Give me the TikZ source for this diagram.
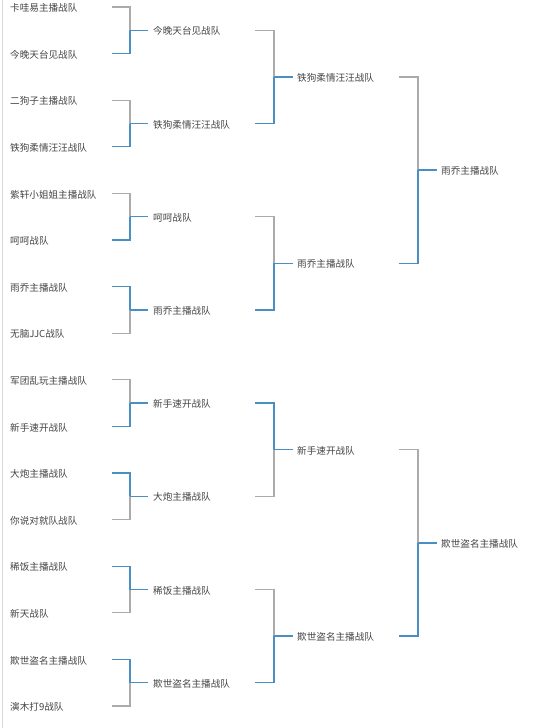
\documentclass[tikz,border=0pt]{standalone}
\usepackage{fontspec}
\newfontfamily\cjk{Noto Sans CJK SC}
\definecolor{lgray}{HTML}{ABABAB}
\definecolor{wblue}{HTML}{4A8FC4}
\definecolor{tgray}{HTML}{444444}
\begin{document}
\begin{tikzpicture}[x=1pt,y=-1pt,
  los/.style={draw=lgray,line width=1.3pt,line join=miter},
  win/.style={draw=wblue,line width=1.3pt,line join=miter},
  lab/.style={anchor=west,inner sep=0pt,text=tgray,font=\cjk\fontsize{9.6}{9.6}\selectfont}]
\useasboundingbox (0,0) rectangle (539,728);
\fill[white] (0,0) rectangle (539,728);
\draw[lgray!45,line width=1pt] (2,0) -- (2,728);
% round 1 labels
\node[lab] (p0) at (10,8) {卡哇易主播战队};
\node[lab] (p1) at (10,54.6) {今晚天台见战队};
\node[lab] (p2) at (10,101.2) {二狗子主播战队};
\node[lab] (p3) at (10,147.8) {铁狗柔情汪汪战队};
\node[lab] (p4) at (10,194.4) {紫轩小姐姐主播战队};
\node[lab] (p5) at (10,241) {呵呵战队};
\node[lab] (p6) at (10,287.6) {雨乔主播战队};
\node[lab] (p7) at (10,334.2) {无脑JJC战队};
\node[lab] (p8) at (10,380.8) {军团乱玩主播战队};
\node[lab] (p9) at (10,427.4) {新手速开战队};
\node[lab] (p10) at (10,474) {大炮主播战队};
\node[lab] (p11) at (10,520.6) {你说对就队战队};
\node[lab] (p12) at (10,567.2) {稀饭主播战队};
\node[lab] (p13) at (10,613.8) {新天战队};
\node[lab] (p14) at (10,660.4) {欺世盗名主播战队};
\node[lab] (p15) at (10,707) {演木打9战队};
% brackets
\foreach \n/\xs/\xv/\xo/\yt/\yb/\wn/\ls in {
  a/112/130/148/7/53.6/b/t,
  b/112/130/148/100.2/146.8/b/t,
  c/112/130/148/193.4/240/b/t,
  d/112/130/148/286.6/333.2/t/b,
  e/112/130/148/379.8/426.4/b/t,
  f/112/130/148/473/519.6/t/b,
  g/112/130/148/566.2/612.8/t/b,
  h/112/130/148/659.4/706/t/b,
  i/255/274/293/30.3/123.5/b/t,
  j/255/274/293/216.7/309.9/b/t,
  k/255/274/293/403.1/496.3/t/b,
  l/255/274/293/589.5/682.7/b/t,
  m/399/418/437/76.9/263.3/b/t,
  n/399/418/437/449.7/636.1/b/t}
{
  \coordinate (\n-t) at (\xs,\yt);
  \coordinate (\n-b) at (\xs,\yb);
  \coordinate (\n-m) at (\xv,{(\yt+\yb)/2});
  \coordinate (\n-o) at (\xo,{(\yt+\yb)/2});
  \draw[los] (\n-\ls) -| (\n-m);
  \draw[win] (\n-\wn) -| (\n-m);
  \draw[win] (\n-m) -- (\n-o);
}
% round 2 labels
\node[lab] (q0) at (153,31.3) {今晚天台见战队};
\node[lab] (q1) at (153,124.5) {铁狗柔情汪汪战队};
\node[lab] (q2) at (153,217.7) {呵呵战队};
\node[lab] (q3) at (153,310.9) {雨乔主播战队};
\node[lab] (q4) at (153,404.1) {新手速开战队};
\node[lab] (q5) at (153,497.3) {大炮主播战队};
\node[lab] (q6) at (153,590.5) {稀饭主播战队};
\node[lab] (q7) at (153,683.7) {欺世盗名主播战队};
% round 3 labels
\node[lab] (r0) at (297,77.9) {铁狗柔情汪汪战队};
\node[lab] (r1) at (297,264.3) {雨乔主播战队};
\node[lab] (r2) at (297,450.7) {新手速开战队};
\node[lab] (r3) at (297,637.1) {欺世盗名主播战队};
% round 4 labels
\node[lab] (s0) at (441,171.1) {雨乔主播战队};
\node[lab] (s1) at (441,543.9) {欺世盗名主播战队};
\end{tikzpicture}
\end{document}
